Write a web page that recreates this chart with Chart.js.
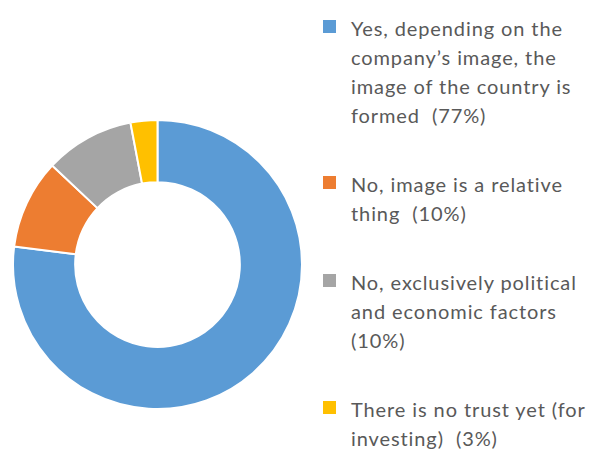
<!DOCTYPE html>
<html lang="en">
<head>
    <meta charset="UTF-8">
    <title>Company image and country image</title>
    <script src="https://cdn.jsdelivr.net/npm/chart.js"></script>
    <style>
        * {
            margin: 0;
            padding: 0;
            box-sizing: border-box;
        }

        body {
            width: 592px;
            height: 451px;
            background: #ffffff;
            position: relative;
            overflow: hidden;
            font-family: 'Lato', 'Open Sans', sans-serif;
        }

        .chart-box {
            position: absolute;
            left: 12px;
            top: 119px;
            width: 291px;
            height: 291px;
        }

        .legend {
            position: absolute;
            left: 323px;
            top: 14px;
            list-style: none;
            color: #595959;
            font-size: 20px;
            line-height: 29px;
            letter-spacing: 0.9px;
        }

        .legend li {
            position: relative;
            padding-left: 28px;
            margin-bottom: 40px;
            white-space: pre;
        }

        .legend .swatch {
            position: absolute;
            left: 0;
            top: 6px;
            width: 13px;
            height: 13px;
        }
    </style>
</head>
<body>
    <div class="chart-box">
        <canvas id="donut"></canvas>
    </div>
    <ul class="legend" id="legend"></ul>

    <script>
        const labelLines = [
            ['Yes, depending on the', 'company\u2019s image, the', 'image of the country is', 'formed  (77%)'],
            ['No, image is a relative', 'thing  (10%)'],
            ['No, exclusively political', 'and economic factors', '(10%)'],
            ['There is no trust yet (for', 'investing)  (3%)']
        ];
        const shares = [77, 10, 10, 3];
        const sliceColors = ['#5B9BD5', '#ED7D31', '#A5A5A5', '#FFC000'];

        // legend as html so the long labels can wrap like the original
        const legend = document.getElementById('legend');
        labelLines.forEach((lines, i) => {
            const li = document.createElement('li');
            const sw = document.createElement('span');
            sw.className = 'swatch';
            sw.style.background = sliceColors[i];
            li.appendChild(sw);
            li.appendChild(document.createTextNode(lines.join('\n')));
            legend.appendChild(li);
        });

        new Chart(document.getElementById('donut'), {
            type: 'doughnut',
            data: {
                labels: labelLines.map(l => l.join(' ')),
                datasets: [{
                    data: shares,
                    backgroundColor: sliceColors,
                    borderColor: '#ffffff',
                    borderWidth: 2,
                    hoverOffset: 0
                }]
            },
            options: {
                responsive: true,
                maintainAspectRatio: false,
                animation: false,
                cutout: '57%',
                layout: { padding: 0 },
                plugins: {
                    legend: { display: false },
                    tooltip: { enabled: false }
                }
            }
        });
    </script>
</body>
</html>
